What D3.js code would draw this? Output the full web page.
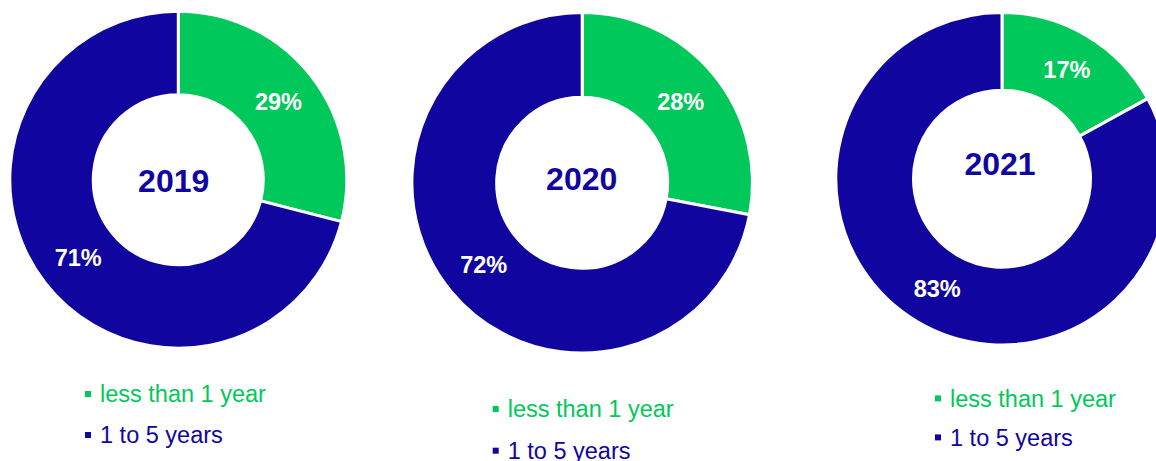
<!DOCTYPE html>
<html>
<head>
<meta charset="utf-8">
<script src="https://cdn.jsdelivr.net/npm/d3@7"></script>
<style>
  html, body { margin: 0; padding: 0; background: #ffffff; }
  svg { display: block; }
  text { font-family: "Liberation Sans", Arial, Helvetica, sans-serif; }
</style>
</head>
<body>
<svg id="chart" width="1156" height="461"></svg>
<script>
// Share of contracts by duration, per year (percent)
const years = ["2019", "2020", "2021"];
const categories = ["less than 1 year", "1 to 5 years"];
const lessThanOneYear = [29, 28, 17];
const oneToFiveYears = [71, 72, 83];
const categoryColors = ["#00C85A", "#10069F"];

// Placement of each donut on the page
const donutLayout = [
  { cx: 178.3, cy: 179.7, outer: 168.5, inner: 85, yearDx: -4.6, yearDy: 0.3, legendX: 100, legendY: 402.3, legendGap: 41 },
  { cx: 582.2, cy: 182.8, outer: 170.3, inner: 85.5, yearDx: -0.5, yearDy: -4.5, legendX: 507.7, legendY: 417.3, legendGap: 41.7 },
  { cx: 1002,  cy: 178.7, outer: 166.2, inner: 88.5, yearDx: -2, yearDy: -15, legendX: 950, legendY: 406.7, legendGap: 39 }
];

const svg = d3.select("#chart");
const color = d3.scaleOrdinal().domain(categories).range(categoryColors);

const pie = d3.pie()
  .sort(null)
  .value(d => d.value)
  .startAngle(0)
  .endAngle(2 * Math.PI);

years.forEach((year, i) => {
  const L = donutLayout[i];
  const slices = [
    { category: categories[0], value: lessThanOneYear[i] },
    { category: categories[1], value: oneToFiveYears[i] }
  ];
  const arc = d3.arc().innerRadius(L.inner).outerRadius(L.outer);
  const labelArc = d3.arc()
    .innerRadius((L.inner + L.outer) / 2)
    .outerRadius((L.inner + L.outer) / 2);

  const g = svg.append("g").attr("transform", `translate(${L.cx},${L.cy})`);

  const arcs = pie(slices);

  g.selectAll("path.slice")
    .data(arcs)
    .join("path")
    .attr("class", "slice")
    .attr("d", arc)
    .attr("fill", d => color(d.data.category))
    .attr("stroke", "#ffffff")
    .attr("stroke-width", 3)
    .attr("stroke-linejoin", "miter");

  g.selectAll("text.pct")
    .data(arcs)
    .join("text")
    .attr("class", "pct")
    .attr("transform", d => {
      const [x, y] = labelArc.centroid(d);
      return `translate(${x},${y})`;
    })
    .attr("text-anchor", "middle")
    .attr("dy", "0.36em")
    .attr("fill", "#ffffff")
    .attr("font-weight", "bold")
    .attr("font-size", "23.5px")
    .text(d => d.data.value + "%");

  g.append("text")
    .attr("x", L.yearDx)
    .attr("y", L.yearDy)
    .attr("dy", "0.36em")
    .attr("text-anchor", "middle")
    .attr("fill", categoryColors[1])
    .attr("font-weight", "bold")
    .attr("font-size", "32px")
    .text(year);

  // Legend under each donut
  const legend = svg.append("g")
    .attr("transform", `translate(${L.legendX},${L.legendY})`);
  const items = legend.selectAll("g.item")
    .data(categories)
    .join("g")
    .attr("class", "item")
    .attr("transform", (d, k) => `translate(0,${k * L.legendGap})`);
  items.append("rect")
    .attr("x", -15)
    .attr("y", -11.3)
    .attr("width", 6)
    .attr("height", 6)
    .attr("fill", d => color(d));
  items.append("text")
    .attr("x", 0)
    .attr("y", 0)
    .attr("fill", d => color(d))
    .attr("font-size", "23.5px")
    .text(d => d);
});
</script>
</body>
</html>
